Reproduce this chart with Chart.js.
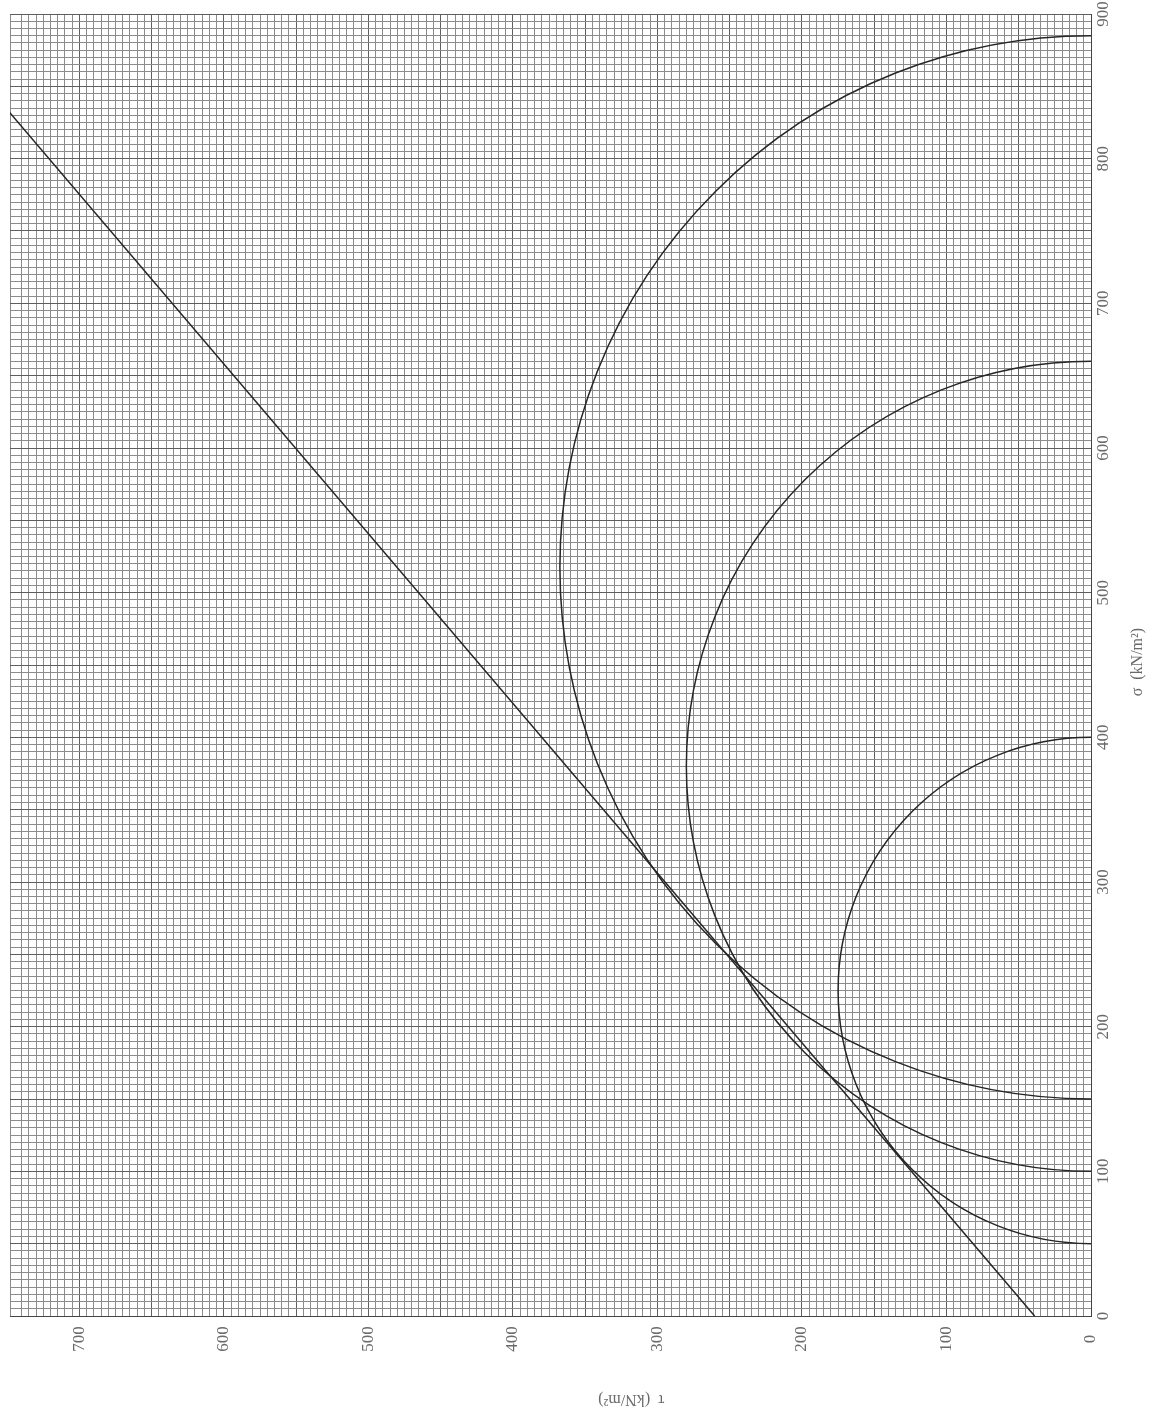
<!DOCTYPE html>
<html>
<head>
<meta charset="utf-8">
<title>Mohr circles</title>
<script src="https://cdn.jsdelivr.net/npm/chart.js@4.4.1/dist/chart.umd.min.js"></script>
<style>
  html, body { margin: 0; padding: 0; background: #fff; }
  canvas { display: block; }
</style>
</head>
<body>
<canvas id="mohrChart" width="1156" height="1414"></canvas>
<script>
// tick labels
const sigmaTicks = [0, 100, 200, 300, 400, 500, 600, 700, 800, 900];
const tauTicks = [0, 100, 200, 300, 400, 500, 600, 700];

// Mohr circles: minor / major principal stress (kN/m2)
const sigma3 = [50, 100, 150];
const sigma1 = [400, 660, 885];

// failure envelope, two end points
const envSigma = [0, 834];
const envTau = [39, 750];

const lineColor = '#262626';
const labelColor = '#6a6a6a';

const envelopeData = [];
for (let i = 0; i < envSigma.length; i++) {
    envelopeData.push({ x: envTau[i], y: envSigma[i] });
}

// half circles drawn through the chart scales
const circlesPlugin = {
    id: 'circles',
    afterDatasetsDraw(chart) {
        const ctx = chart.ctx;
        const xs = chart.scales.x;
        const ys = chart.scales.y;
        const area = chart.chartArea;
        ctx.save();
        ctx.beginPath();
        ctx.rect(area.left, area.top, area.right - area.left, area.bottom - area.top);
        ctx.clip();
        ctx.strokeStyle = lineColor;
        ctx.lineWidth = 1.5;
        for (let i = 0; i < sigma3.length; i++) {
            const c = (sigma1[i] + sigma3[i]) / 2;
            const r = (sigma1[i] - sigma3[i]) / 2;
            const cx = xs.getPixelForValue(0);
            const cy = ys.getPixelForValue(c);
            const rx = Math.abs(xs.getPixelForValue(r) - cx);
            const ry = Math.abs(ys.getPixelForValue(c + r) - cy);
            ctx.beginPath();
            ctx.ellipse(cx, cy, rx, ry, 0, Math.PI / 2, Math.PI * 1.5);
            ctx.stroke();
        }
        ctx.restore();
    }
};

// rotated tick labels and titles (page is turned a quarter)
const labelsPlugin = {
    id: 'labels',
    afterDraw(chart) {
        const ctx = chart.ctx;
        const xs = chart.scales.x;
        const ys = chart.scales.y;
        const area = chart.chartArea;
        ctx.save();
        ctx.fillStyle = labelColor;
        ctx.font = '17px "Liberation Serif", serif';
        ctx.textAlign = 'center';
        ctx.textBaseline = 'middle';

        sigmaTicks.forEach(function (v) {
            ctx.save();
            ctx.translate(area.right + 13, ys.getPixelForValue(v));
            ctx.rotate(-Math.PI / 2);
            ctx.fillText(String(v), 0, 0);
            ctx.restore();
        });

        tauTicks.forEach(function (v) {
            ctx.save();
            ctx.translate(xs.getPixelForValue(v), area.bottom + 23);
            ctx.rotate(-Math.PI / 2);
            ctx.fillText(String(v), 0, 0);
            ctx.restore();
        });

        ctx.font = '16px "Liberation Serif", serif';

        // sigma title
        ctx.save();
        ctx.translate(area.right + 47, ys.getPixelForValue(452));
        ctx.rotate(-Math.PI / 2);
        ctx.fillText('\u03c3  (kN/m\u00b2)', 0, 0);
        ctx.restore();

        // tau title, upside down
        ctx.save();
        ctx.translate(xs.getPixelForValue(318), area.bottom + 83);
        ctx.rotate(Math.PI);
        ctx.fillText('\u03c4  (kN/m\u00b2)', 0, 0);
        ctx.restore();

        ctx.restore();
    }
};

function gridColor(context) {
    if (!context.tick) return '#8c8c8c';
    return context.tick.value % 50 === 0 ? '#5e5e5e' : '#8c8c8c';
}

new Chart(document.getElementById('mohrChart'), {
    type: 'scatter',
    data: {
        datasets: [
            {
                data: envelopeData,
                showLine: true,
                borderColor: lineColor,
                borderWidth: 1.5,
                pointRadius: 0,
                fill: false
            }
        ]
    },
    options: {
        responsive: false,
        animation: false,
        layout: { padding: { left: 10, top: 14, right: 0, bottom: 0 } },
        plugins: {
            legend: { display: false },
            tooltip: { enabled: false }
        },
        scales: {
            x: {
                type: 'linear',
                position: 'bottom',
                reverse: true,
                min: 0,
                max: 748,
                ticks: { display: false, stepSize: 5, maxTicksLimit: 1000 },
                grid: { color: gridColor, lineWidth: 1, drawTicks: false },
                border: { display: true, color: '#444', width: 1 },
                afterFit: function (scale) { scale.height = 98; }
            },
            y: {
                type: 'linear',
                position: 'right',
                min: 0,
                max: 900,
                ticks: { display: false, stepSize: 5, maxTicksLimit: 1000 },
                grid: { color: gridColor, lineWidth: 1, drawTicks: false },
                border: { display: true, color: '#444', width: 1 },
                afterFit: function (scale) { scale.width = 65; }
            }
        }
    },
    plugins: [circlesPlugin, labelsPlugin]
});
</script>
</body>
</html>
